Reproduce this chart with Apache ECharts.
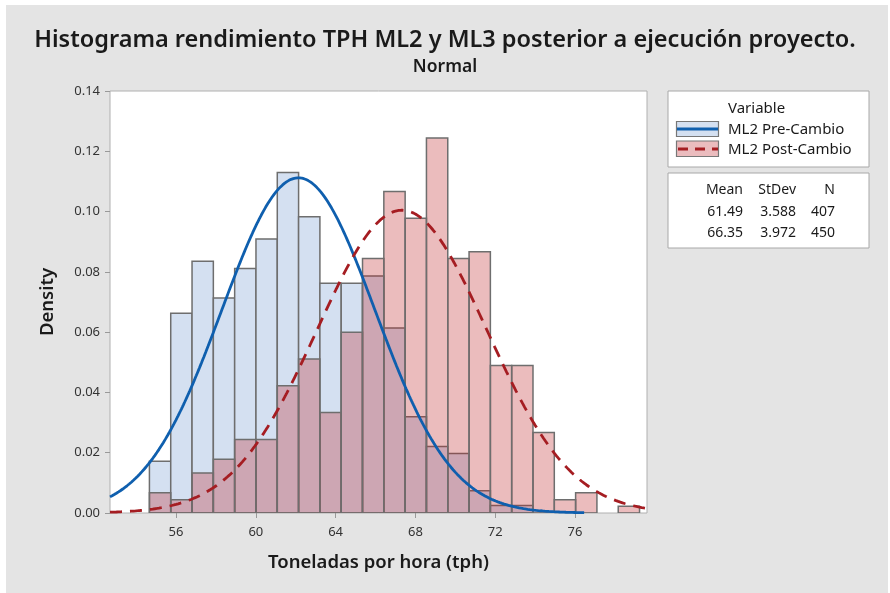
<!DOCTYPE html>
<html lang="es">
<head>
    <meta charset="UTF-8">
    <title>Histograma TPH</title>
</head>
<script src="https://cdn.jsdelivr.net/npm/echarts@6/dist/echarts.min.js"></script>
<style>
    *{
        margin: 0;
        padding: 0;
    }
    body,html{
        width: 890px;
        height: 593px;
        overflow: hidden;
        background: #fff;
    }
    .bg{
        position: absolute;
        left: 6px;
        top: 5px;
        width: 882px;
        height: 588px;
        background: #e4e4e4;
    }
    .box{
        position: absolute;
        left: 0;
        top: 0;
        width: 890px;
        height: 593px;
    }
</style>
<body>
<div class="bg"></div>
<div class="box"></div>
<script>
    // bin midpoints (width 1)
    let binMids = [55, 56, 57, 58, 59, 60, 61, 62, 63, 64, 65, 66, 67, 68, 69, 70, 71, 72, 73, 74, 75, 76, 77];
    // density
    let preDensity = [0.0172, 0.0663, 0.0835, 0.0713, 0.0811, 0.0909, 0.1130, 0.0983, 0.0762, 0.0762, 0.0786, 0.0614,
        0.0319, 0.0221, 0.0197, 0.0074, 0.0025, 0.0025, 0, 0, 0, 0, 0];
    let postDensity = [0.0067, 0.0044, 0.0133, 0.0178, 0.0244, 0.0244, 0.0422, 0.0511, 0.0333, 0.0600, 0.0844, 0.1067,
        0.0978, 0.1244, 0.0844, 0.0867, 0.0489, 0.0489, 0.0267, 0.0044, 0.0067, 0, 0.0022];

    let names = ['ML2 Pre-Cambio', 'ML2 Post-Cambio'];
    let means = [61.49, 66.35];
    let stdevs = [3.588, 3.972];
    let counts = [407, 450];
    let fitRange = [[52.65, 74.9], [52.65, 77.85]];

    let xTicks = [56, 60, 64, 68, 72, 76];

    let myChart = echarts.init(document.querySelector('.box'));

    function binData(dens) {
        return binMids.map((m, i) => [m - 0.5, m + 0.5, dens[i]]);
    }

    function normalCurve(mu, sd, range) {
        let pts = [];
        for (let x = range[0]; x <= range[1] + 1e-9; x += 0.05) {
            let z = (x - mu) / sd;
            pts.push([x, Math.exp(-0.5 * z * z) / (sd * Math.sqrt(2 * Math.PI))]);
        }
        return pts;
    }

    function histSeries(name, dens, fill, z) {
        return {
            name,
            type: 'custom',
            xAxisIndex: 0,
            z,
            clip: true,
            data: binData(dens),
            encode: {x: [0, 1], y: 2},
            renderItem: function (params, api) {
                let h = api.value(2);
                if (!h) return null;
                let p0 = api.coord([api.value(0), 0]);
                let p1 = api.coord([api.value(1), h]);
                return {
                    type: 'rect',
                    shape: {x: p0[0], y: p1[1], width: p1[0] - p0[0], height: p0[1] - p1[1]},
                    style: {fill: fill, stroke: '#6e6e6e', lineWidth: 1.5}
                };
            }
        };
    }

    const blueFill = '#d4e0f1';
    const redFill = 'rgba(188,32,38,0.3)';
    const blueLine = '#0f5fae';
    const redLine = '#a51d22';
    const font = '"Noto Sans", "Open Sans", sans-serif';

    let statsText = means.map((m, i) => [m.toFixed(2), stdevs[i].toFixed(3), String(counts[i])]);

    let graphic = [
        {type: 'rect', shape: {x: 668, y: 91, width: 201, height: 76}, style: {fill: '#fff', stroke: '#a8a8a8', lineWidth: 1}},
        {type: 'text', x: 728, y: 109, style: {text: 'Variable', font: '15px ' + font, fill: '#1a1a1a', verticalAlign: 'middle'}},
        {type: 'rect', shape: {x: 676.5, y: 121.5, width: 42, height: 15}, style: {fill: blueFill, stroke: '#777', lineWidth: 1.2}},
        {type: 'line', shape: {x1: 677, y1: 129, x2: 718, y2: 129}, style: {stroke: blueLine, lineWidth: 2.8}},
        {type: 'text', x: 728, y: 130, style: {text: names[0], font: '15px ' + font, fill: '#1a1a1a', verticalAlign: 'middle'}},
        {type: 'rect', shape: {x: 676.5, y: 141, width: 42, height: 15.5}, style: {fill: '#ebbcbe', stroke: '#777', lineWidth: 1.2}},
        {type: 'line', shape: {x1: 678, y1: 149, x2: 718, y2: 149}, style: {stroke: redLine, lineWidth: 2.8, lineDash: [10, 7]}},
        {type: 'text', x: 728, y: 150, style: {text: names[1], font: '15px ' + font, fill: '#1a1a1a', verticalAlign: 'middle'}},
        {type: 'rect', shape: {x: 668, y: 173, width: 201, height: 75}, style: {fill: '#fff', stroke: '#a8a8a8', lineWidth: 1}}
    ];
    let colRight = [743, 796, 835];
    ['Mean', 'StDev', 'N'].forEach((h, j) => {
        graphic.push({type: 'text', x: colRight[j], y: 190, style: {text: h, font: '14px ' + font, fill: '#1a1a1a', align: 'right', verticalAlign: 'middle'}});
    });
    statsText.forEach((row, i) => {
        row.forEach((t, j) => {
            graphic.push({type: 'text', x: colRight[j], y: 212 + i * 21.5, style: {text: t, font: '14px ' + font, fill: '#1a1a1a', align: 'right', verticalAlign: 'middle'}});
        });
    });

    let option = {
        animation: false,
        textStyle: {fontFamily: font},
        title: [{
            text: 'Histograma rendimiento TPH ML2 y ML3 posterior a ejecución proyecto.',
            left: 'center',
            top: 23,
            textStyle: {fontSize: 23.5, fontWeight: 600, color: '#1a1a1a', fontFamily: font}
        }, {
            text: 'Normal',
            left: 'center',
            top: 53,
            textStyle: {fontSize: 17.5, fontWeight: 600, color: '#1a1a1a', fontFamily: font}
        }],
        grid: {
            left: 110,
            top: 91,
            right: 243,
            bottom: 80,
            show: true,
            backgroundColor: '#fff',
            borderColor: '#b0b0b0',
            borderWidth: 1
        },
        xAxis: [{
            type: 'value',
            min: 52.65,
            max: 77.85,
            show: false
        }, {
            type: 'value',
            min: 52.69,
            max: 79.61,
            position: 'bottom',
            name: 'Toneladas por hora (tph)',
            nameLocation: 'middle',
            nameGap: 40,
            nameTextStyle: {fontSize: 18.5, fontWeight: 600, color: '#1a1a1a'},
            axisLine: {show: false},
            axisTick: {show: true, customValues: xTicks, length: 5, lineStyle: {color: '#999'}},
            axisLabel: {customValues: xTicks, fontSize: 13, color: '#333', margin: 13},
            splitLine: {show: false}
        }],
        yAxis: {
            type: 'value',
            min: 0,
            max: 0.14,
            interval: 0.02,
            name: 'Density',
            nameLocation: 'middle',
            nameGap: 53,
            nameTextStyle: {fontSize: 18.5, fontWeight: 600, color: '#1a1a1a'},
            axisLine: {show: false},
            axisTick: {show: true, length: 5, lineStyle: {color: '#999'}},
            axisLabel: {fontSize: 13, color: '#333', margin: 10, formatter: v => v.toFixed(2)},
            splitLine: {show: false}
        },
        graphic,
        series: [
            histSeries(names[0], preDensity, blueFill, 1),
            histSeries(names[1], postDensity, redFill, 2),
            {
                name: names[0] + ' fit',
                type: 'line',
                xAxisIndex: 0,
                z: 3,
                showSymbol: false,
                data: normalCurve(means[0], stdevs[0], fitRange[0]),
                lineStyle: {color: blueLine, width: 2.8}
            },
            {
                name: names[1] + ' fit',
                type: 'line',
                xAxisIndex: 0,
                z: 4,
                showSymbol: false,
                data: normalCurve(means[1], stdevs[1], fitRange[1]),
                lineStyle: {color: redLine, width: 2.8, type: [12, 8]}
            }
        ]
    };

    myChart.setOption(option);
</script>
</body>
</html>
